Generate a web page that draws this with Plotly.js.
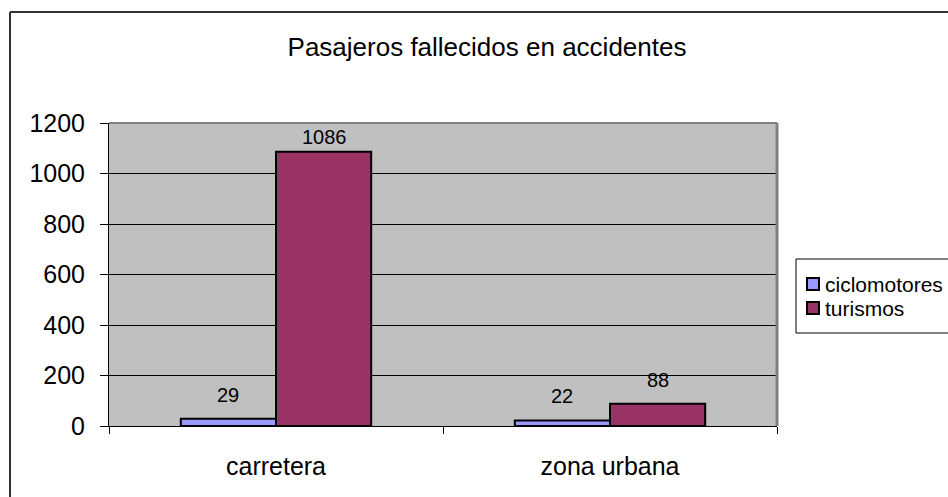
<!DOCTYPE html>
<html>
<head>
<meta charset="utf-8">
<script src="https://cdn.plot.ly/plotly-3.0.1.min.js"></script>
<style>html,body{margin:0;padding:0;background:#fff;}#chart{width:948px;height:497px;}</style>
</head>
<body>
<div id="chart"></div>
<script>
const categories = ["carretera", "zona urbana"];
const seriesNames = ["ciclomotores", "turismos"];
const ciclomotores = [29, 22];
const turismos = [1086, 88];
const seriesColors = ["#9999FF", "#993366"];
const yTicks = [0, 200, 400, 600, 800, 1000, 1200];
const titleText = "Pasajeros fallecidos en accidentes";

const font = "Liberation Sans, Arial, sans-serif";
const W = 948, H = 497;
const L = 109, R = 777, T = 123, B = 426;
const YMAX = 1200;
const px = x => (x - L) / (R - L);
const py = y => (B - y) / (B - T);
const ppu = (B - T) / YMAX;
const series = [ciclomotores, turismos];

const traces = series.map((vals, i) => ({
  type: "bar", name: seriesNames[i], x: categories, y: vals,
  marker: {color: seriesColors[i], line: {color: "#000", width: 2}},
  showlegend: false
}));

// data labels
const annotations = [];
const groupOffset = [-48, 48];
series.forEach((vals, i) => {
  vals.forEach((v, j) => {
    const room = (YMAX - v) * ppu - 14;
    annotations.push({
      x: categories[j], y: v, xref: "x", yref: "y",
      xshift: groupOffset[i], yshift: Math.min(24, room),
      text: String(v), showarrow: false, xanchor: "center", yanchor: "middle",
      font: {family: font, size: 20, color: "#000"}
    });
  });
});

// legend (manual, Excel style)
const shapes = [
  {type: "line", xref: "paper", yref: "paper", x0: 0, x1: 1, y0: 1, y1: 1,
   line: {color: "#808080", width: 2}, layer: "above"},
  {type: "line", xref: "paper", yref: "paper", x0: 1, x1: 1, y0: 0, y1: 1,
   line: {color: "#808080", width: 3}, layer: "above"},
  {type: "line", xref: "paper", yref: "paper", x0: px(10), x1: px(960), y0: py(12), y1: py(12),
   line: {color: "#333", width: 2}},
  {type: "line", xref: "paper", yref: "paper", x0: px(10), x1: px(10), y0: py(12), y1: py(510),
   line: {color: "#333", width: 2}},
  {type: "rect", xref: "paper", yref: "paper", x0: px(796), x1: px(955), y0: py(259), y1: py(333),
   fillcolor: "#fff", line: {color: "#000", width: 1}}
];
const legendY = [284, 308];
seriesNames.forEach((name, i) => {
  const cy = legendY[i];
  shapes.push({type: "rect", xref: "paper", yref: "paper",
    x0: px(807), x1: px(819), y0: py(cy - 6), y1: py(cy + 6),
    fillcolor: seriesColors[i], line: {color: "#000", width: 2}});
  annotations.push({xref: "paper", yref: "paper", x: px(823), y: py(cy),
    xanchor: "left", yanchor: "middle", text: name, showarrow: false,
    font: {family: font, size: 21, color: "#000"}});
});

const layout = {
  width: W, height: H,
  margin: {l: L, r: W - R, t: T, b: H - B, pad: 0},
  paper_bgcolor: "#fff", plot_bgcolor: "#C0C0C0",
  font: {family: font, color: "#000"},
  title: {text: titleText, font: {family: font, size: 26, color: "#000"},
          x: 487 / W, xanchor: "center", y: 1 - 47 / H, yanchor: "middle"},
  barmode: "group", bargap: 0.43, bargroupgap: 0,
  showlegend: false,
  xaxis: {type: "category", showgrid: false, zeroline: false,
          showline: true, linecolor: "#000", linewidth: 1,
          ticks: "outside", tickson: "boundaries", ticklen: 7, tickcolor: "#000",
          ticklabelstandoff: 18,
          tickfont: {family: font, size: 25, color: "#000"}},
  yaxis: {range: [0, YMAX], tickvals: yTicks, ticktext: yTicks.map(String),
          showgrid: true, gridcolor: "#000", gridwidth: 1, zeroline: false,
          showline: true, linecolor: "#000", linewidth: 1,
          ticks: "outside", ticklen: 8, tickcolor: "#000",
          ticklabelstandoff: 10,
          tickfont: {family: font, size: 25, color: "#000"}},
  shapes: shapes,
  annotations: annotations
};

Plotly.newPlot("chart", traces, layout, {staticPlot: true});
</script>
</body>
</html>
